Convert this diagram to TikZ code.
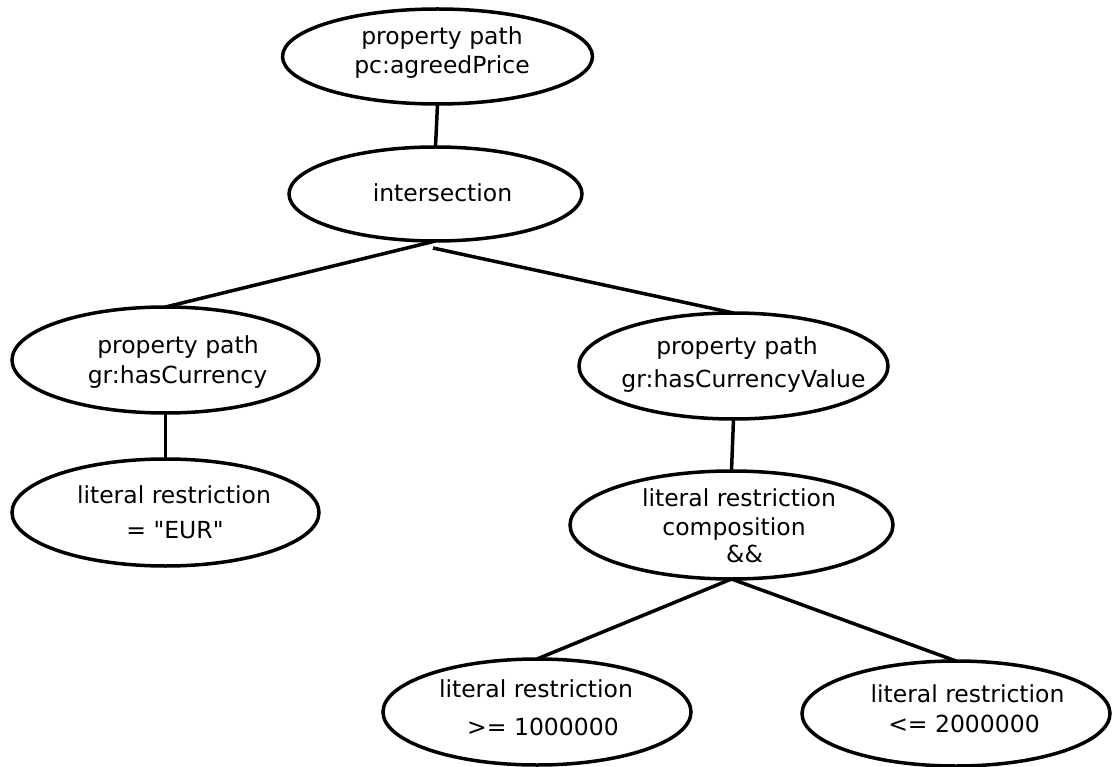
\documentclass[tikz,border=0pt]{standalone}
\usepackage{fontspec}
\setmainfont{DejaVu Sans}[Ligatures=TeXOff]
\usetikzlibrary{shapes.geometric}
\begin{document}
\begin{tikzpicture}[x=1pt,y=-1pt,
  ell/.style={ellipse,draw=black,line width=3.5pt,inner sep=0pt,outer sep=0pt},
  lbl/.style={anchor=base,inner sep=0pt,font=\fontsize{23.5}{28}\selectfont},
  conn/.style={line width=3.5pt}]
\useasboundingbox (0,0) rectangle (1114,767);
% ellipses
\node[ell,minimum width=310pt,minimum height=95pt] (top) at (437.5,56.5) {};
\node[ell,minimum width=293pt,minimum height=94pt] (int) at (435.5,194) {};
\node[ell,minimum width=307pt,minimum height=106pt] (lpp) at (165.5,360) {};
\node[ell,minimum width=309pt,minimum height=106pt] (rpp) at (733.5,366) {};
\node[ell,minimum width=307pt,minimum height=107pt] (llit) at (165.5,512.5) {};
\node[ell,minimum width=323pt,minimum height=108pt] (comp) at (731.5,525) {};
\node[ell,minimum width=308pt,minimum height=106pt] (bl) at (537,712) {};
\node[ell,minimum width=308pt,minimum height=105pt] (br) at (956,713.5) {};
% labels
\node[lbl] (t1) at (442,45) {property path};
\node[lbl] (t2) at (442,74) {pc:agreedPrice};
\node[lbl] (t3) at (442.5,202) {intersection};
\node[lbl] (t4) at (178,353) {property path};
\node[lbl] (t5) at (177.5,383) {gr:hasCurrency};
\node[lbl] (t6) at (174,503) {literal restriction};
\node[lbl] (t7) at (175,538) {= "EUR"};
\node[lbl] (t8) at (737,355) {property path};
\node[lbl] (t9) at (743.5,388) {gr:hasCurrencyValue};
\node[lbl] (t10) at (739,506) {literal restriction};
\node[lbl] (t11) at (734,535) {composition};
\node[lbl] (t12) at (744.5,562) {\&\&};
\node[lbl] (t13) at (536,697) {literal restriction};
\node[lbl] (t14) at (543,735) {>= 1000000};
\node[lbl] (t15) at (967.5,702) {literal restriction};
\node[lbl] (t16) at (964,732) {<= 2000000};
% connectors
\coordinate (s2) at (433,248);
\draw[conn] (top.south) -- (int.north);
\draw[conn] (int.south) -- (lpp.north);
\draw[conn] (s2) -- (rpp.north);
\draw[conn] (lpp.south) -- (llit.north);
\draw[conn] (rpp.south) -- (comp.north);
\draw[conn] (comp.south) -- (bl.north);
\draw[conn] (comp.south) -- (br.north);
\end{tikzpicture}
\end{document}
